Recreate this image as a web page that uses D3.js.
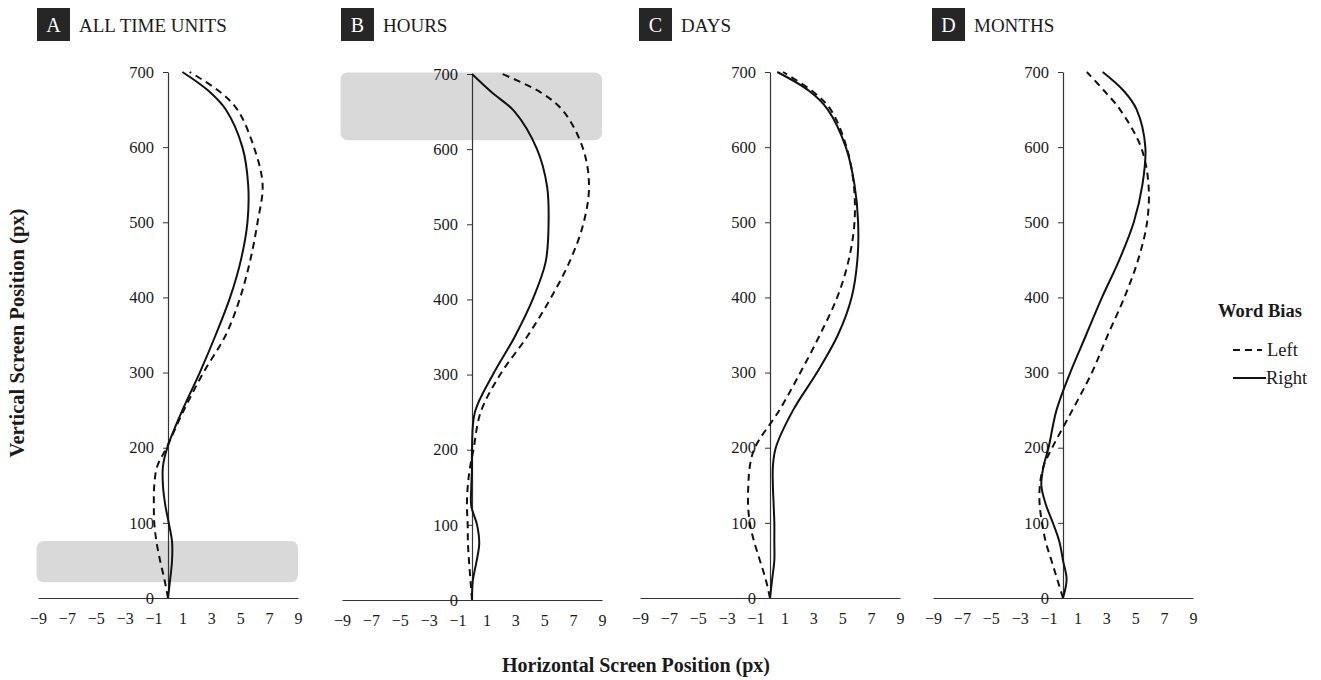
<!DOCTYPE html>
<html>
<head>
<meta charset="utf-8">
<script src="https://cdn.jsdelivr.net/npm/d3@7"></script>
<style>
  body { margin: 0; background: #fff; }
  text { font-family: "Liberation Serif", "Times New Roman", serif; fill: #1a1a1a; }
</style>
</head>
<body>
<svg id="chart" width="1321" height="680"></svg>
<script>
// vertical screen position levels (px) at which horizontal positions were read
var yLevels = [0, 25, 50, 75, 100, 125, 150, 175, 200, 250, 300, 350, 400, 450, 500, 550, 600, 650, 675, 700];

// horizontal screen position (px) per panel, Left = dashed, Right = solid
var allLeft    = [0, -0.25, -0.55, -0.8, -0.95, -0.98, -0.95, -0.75, -0.1, 1.1, 2.45, 4.0, 5.0, 5.7, 6.2, 6.55, 5.95, 4.8, 3.5, 1.5];
var allRight   = [0, 0.15, 0.28, 0.28, 0.05, -0.2, -0.35, -0.35, -0.05, 1.0, 2.2, 3.3, 4.3, 5.05, 5.5, 5.55, 5.15, 4.0, 2.8, 1.0];
var hoursLeft  = [0, -0.1, -0.2, -0.28, -0.3, -0.35, -0.3, -0.15, 0.1, 0.6, 1.95, 3.8, 5.4, 6.75, 7.7, 8.1, 7.7, 6.35, 4.8, 2.1];
var hoursRight = [0, 0.05, 0.3, 0.5, 0.35, -0.05, -0.05, 0, 0, 0.2, 1.45, 2.95, 4.2, 5.1, 5.3, 5.2, 4.5, 2.95, 1.4, 0];
var daysLeft   = [0, -0.3, -0.7, -1.1, -1.4, -1.52, -1.5, -1.4, -1.05, 0.65, 2.1, 3.45, 4.65, 5.45, 5.85, 5.8, 5.3, 4.2, 2.9, 0.9];
var daysRight  = [0, 0.15, 0.3, 0.3, 0.3, 0.25, 0.2, 0.2, 0.4, 1.6, 3.25, 4.7, 5.65, 6.05, 6.1, 5.85, 5.25, 4.0, 2.7, 0.5];
var monthsLeft = [0, -0.4, -0.8, -1.2, -1.45, -1.62, -1.6, -1.35, -0.75, 0.65, 2.0, 3.1, 4.25, 5.2, 5.82, 5.92, 5.4, 3.95, 2.85, 1.65];
var monthsRight= [0, 0.25, 0.0, -0.25, -0.7, -1.2, -1.5, -1.35, -1.0, -0.45, 0.5, 1.6, 2.7, 3.9, 4.9, 5.5, 5.7, 5.1, 4.2, 2.75];

var panelLetters = ["A", "B", "C", "D"];
var panelTitles = ["ALL TIME UNITS", "HOURS", "DAYS", "MONTHS"];
var leftSeries = [allLeft, hoursLeft, daysLeft, monthsLeft];
var rightSeries = [allRight, hoursRight, daysRight, monthsRight];

// shaded ranges of vertical position (px) per panel
var bandLow = [21, 612, null, null];
var bandHigh = [76, 702, null, null];

var xTicks = [-9, -7, -5, -3, -1, 1, 3, 5, 7, 9];
var yTicks = [0, 100, 200, 300, 400, 500, 600, 700];

var svg = d3.select("#chart");

// panel placement
var panelLeft = [38, 342, 640, 933];
var panelTop = [72, 74, 72, 72];
var panelBottom = [598, 600, 598, 598];
var panelWidth = 260;

panelLetters.forEach(function (letter, i) {
    var x = d3.scaleLinear().domain([-9, 9]).range([panelLeft[i], panelLeft[i] + panelWidth]);
    var y = d3.scaleLinear().domain([0, 700]).range([panelBottom[i], panelTop[i]]);
    var g = svg.append("g");

    // title box + label
    g.append("rect")
        .attr("x", panelLeft[i] - 1).attr("y", 8)
        .attr("width", 33).attr("height", 33)
        .attr("fill", "#262626");
    g.append("text")
        .attr("x", panelLeft[i] + 15.5).attr("y", 32)
        .attr("text-anchor", "middle")
        .style("fill", "#fff")
        .style("font-size", "20px")
        .text(letter);
    g.append("text")
        .attr("x", panelLeft[i] + 41).attr("y", 32)
        .style("font-size", "19px")
        .text(panelTitles[i]);

    // shaded band
    if (bandLow[i] !== null) {
        g.append("rect")
            .attr("x", x(-9.1)).attr("y", y(bandHigh[i]))
            .attr("width", x(9) - x(-9.1))
            .attr("height", y(bandLow[i]) - y(bandHigh[i]))
            .attr("rx", 7)
            .attr("fill", "#d9d9d9");
    }

    // x axis (no ticks)
    var xAxis = g.append("g")
        .attr("transform", "translate(0," + y(0) + ")")
        .call(d3.axisBottom(x).tickValues(xTicks).tickSize(0).tickPadding(15).tickFormat(d3.format("d")));
    xAxis.select(".domain").attr("stroke", "#333").attr("stroke-width", 1.2);
    xAxis.selectAll("text").style("font-size", "16px").style("font-family", "Liberation Serif, serif").attr("fill", "#1a1a1a");

    // y axis
    var yAxis = g.append("g")
        .attr("transform", "translate(" + x(0) + ",0)")
        .call(d3.axisLeft(y).tickValues(yTicks).tickSize(5).tickSizeOuter(0).tickPadding(9));
    yAxis.select(".domain").attr("stroke", "#333").attr("stroke-width", 1.2);
    yAxis.selectAll(".tick line").attr("stroke", "#333");
    yAxis.selectAll("text").style("font-size", "16.5px").style("font-family", "Liberation Serif, serif").attr("fill", "#1a1a1a");

    var line = d3.line()
        .x(function (d) { return x(d[1]); })
        .y(function (d) { return y(d[0]); })
        .curve(d3.curveCatmullRom.alpha(0.5));

    function pts(series) {
        return yLevels.map(function (v, k) { return [v, series[k]]; });
    }

    g.append("path")
        .datum(pts(leftSeries[i]))
        .attr("d", line)
        .attr("fill", "none")
        .attr("stroke", "#111")
        .attr("stroke-width", 2)
        .attr("stroke-dasharray", "7,5");

    g.append("path")
        .datum(pts(rightSeries[i]))
        .attr("d", line)
        .attr("fill", "none")
        .attr("stroke", "#111")
        .attr("stroke-width", 2);
});

// axis titles
svg.append("text")
    .attr("transform", "translate(24,333) rotate(-90)")
    .attr("text-anchor", "middle")
    .style("font-size", "20.5px").style("font-weight", "bold")
    .text("Vertical Screen Position (px)");

svg.append("text")
    .attr("x", 636).attr("y", 672)
    .attr("text-anchor", "middle")
    .style("font-size", "20px").style("font-weight", "bold")
    .text("Horizontal Screen Position (px)");

// legend
var legend = svg.append("g");
legend.append("text")
    .attr("x", 1260).attr("y", 317)
    .attr("text-anchor", "middle")
    .style("font-size", "18.5px").style("font-weight", "bold")
    .text("Word Bias");
legend.append("line")
    .attr("x1", 1233).attr("x2", 1262).attr("y1", 350).attr("y2", 350)
    .attr("stroke", "#111").attr("stroke-width", 2).attr("stroke-dasharray", "7,5");
legend.append("text")
    .attr("x", 1267).attr("y", 356)
    .style("font-size", "18.5px")
    .text("Left");
legend.append("line")
    .attr("x1", 1233).attr("x2", 1266).attr("y1", 378).attr("y2", 378)
    .attr("stroke", "#111").attr("stroke-width", 2);
legend.append("text")
    .attr("x", 1266).attr("y", 384)
    .style("font-size", "18.5px")
    .text("Right");
</script>
</body>
</html>
